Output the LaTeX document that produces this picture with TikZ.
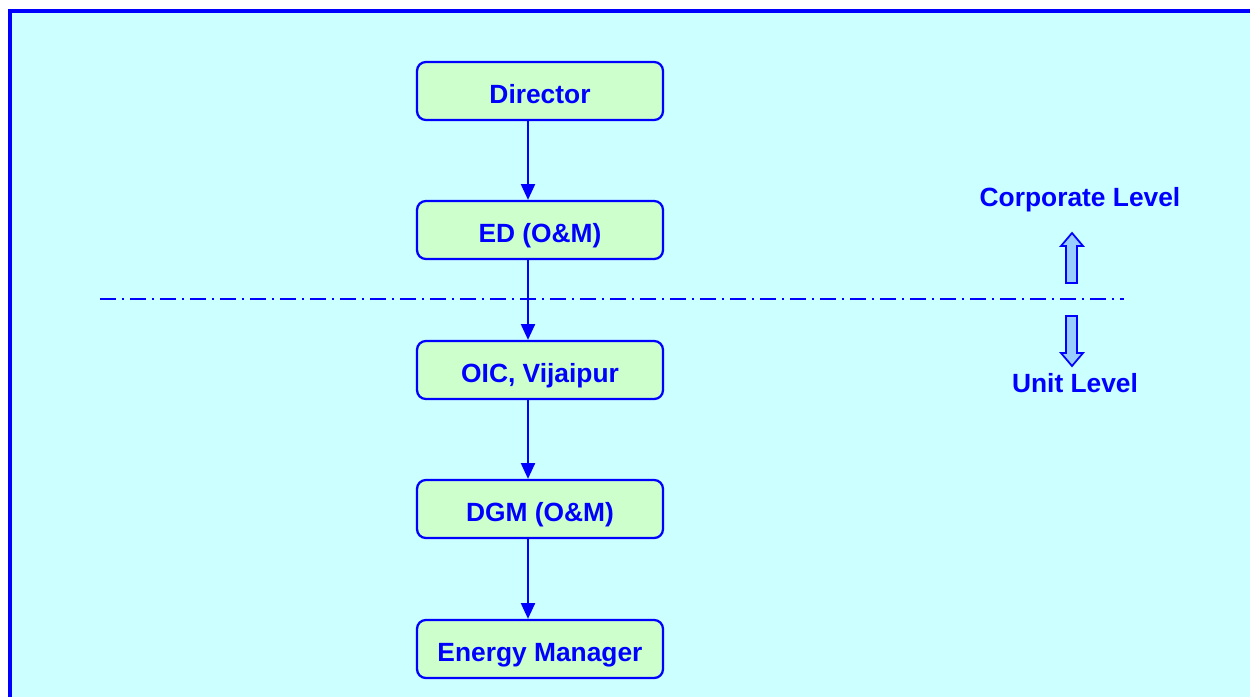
\documentclass[tikz,border=0pt]{standalone}
\usepackage{fontspec}
\setmainfont{Liberation Sans}
\usetikzlibrary{arrows.meta}
\definecolor{panelcyan}{HTML}{CCFFFF}
\definecolor{boxgreen}{HTML}{CCFFCC}
\definecolor{arrowfill}{HTML}{99CCFF}
\begin{document}
\begin{tikzpicture}[x=0.02cm,y=-0.02cm]
    \useasboundingbox (0,0) rectangle (1250,696);
    \fill[white] (0,0) rectangle (1250,696);
    \begin{scope}
        \tikzset{label font/.style={text=blue, font=\fontsize{15}{18}\selectfont\bfseries,
                                    text height=16.2pt, text depth=2pt},
                 org box/.style={label font, draw=blue, line width=1.3pt, fill=boxgreen,
                                 rounded corners=5pt, minimum width=4.92cm, minimum height=1.16cm},
                 level text/.style={label font},
                 down link/.style={draw=blue, line width=1.1pt, -{Triangle[length=9pt,width=8pt]}},
                 block arrow/.style={draw=blue, line width=1pt, fill=arrowfill}}
        % Draw the panel
        \draw[blue, line width=2.2pt, fill=panelcyan] (10,11) rectangle (1280,720);

        % Draw the boxes
        \node [org box] (dir) at (540,91) {Director};
        \node [org box] (ed)  at (540,230) {ED (O\&M)};
        \node [org box] (oic) at (540,370) {OIC, Vijaipur};
        \node [org box] (dgm) at (540,509) {DGM (O\&M)};
        \node [org box] (em)  at (540,649) {Energy Manager};

        % Connect the boxes
        \draw [down link] ([xshift=-0.24cm]dir.south) -- ([xshift=-0.24cm]ed.north);
        \draw [down link] ([xshift=-0.24cm]ed.south) -- ([xshift=-0.24cm]oic.north);
        \draw [down link] ([xshift=-0.24cm]oic.south) -- ([xshift=-0.24cm]dgm.north);
        \draw [down link] ([xshift=-0.24cm]dgm.south) -- ([xshift=-0.24cm]em.north);

        % Level divider
        \draw [blue, line width=1.1pt, dash pattern=on 0.32cm off 0.12cm on 0.04cm off 0.12cm]
            (100,299) -- (1124,299);

        % Label the levels
        \node [level text] (corp) at (1080,194) {Corporate Level};
        \node [level text] (unit) at (1075,380) {Unit Level};
        \draw [block arrow] (1072,233) -- (1083,246) -- (1077,246) -- (1077,283)
            -- (1066,283) -- (1066,246) -- (1061,246) -- cycle; % up
        \draw [block arrow] (1072,366) -- (1083,353) -- (1077,353) -- (1077,316)
            -- (1066,316) -- (1066,353) -- (1061,353) -- cycle; % down
    \end{scope}
\end{tikzpicture}
\end{document}
